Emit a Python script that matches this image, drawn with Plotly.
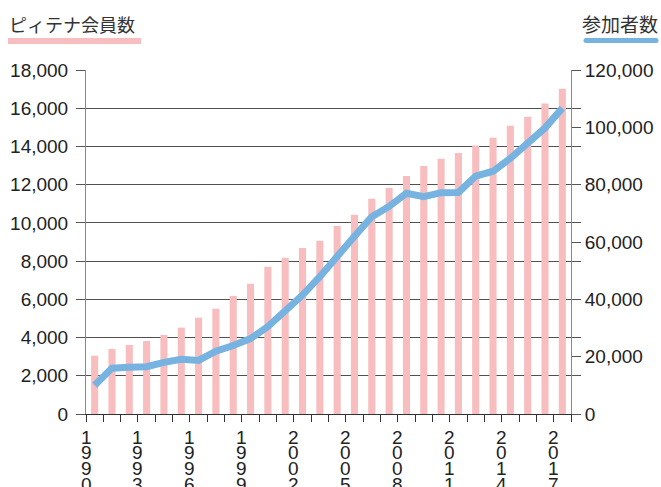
import plotly.graph_objects as go

years = list(range(1990, 2018))
members = [3050, 3400, 3610, 3820, 4140, 4520, 5040, 5510, 6180, 6810,
           7700, 8170, 8690, 9060, 9840, 10420, 11260, 11830, 12460, 12980,
           13350, 13660, 14050, 14450, 15080, 15550, 16250, 17020]
participants = [10000, 16000, 16300, 16500, 18000, 19100, 18700, 21900, 23900, 26300,
                30500, 35700, 41500, 47900, 55300, 62000, 68800, 72400, 77000, 75800,
                77200, 77300, 83000, 84700, 89200, 94500, 99800, 106700]
label_years = [1990, 1993, 1996, 1999, 2002, 2005, 2008, 2011, 2014, 2017]
left_title = "ピィテナ会員数"
right_title = "参加者数"

W, H = 661, 487
L, R, T, B = 86, 571, 70, 414
pw, ph = R - L, B - T

def px(xp):
    return (xp - L) / pw

def py(yp):
    return (B - yp) / ph

xs = [i + 0.5 for i in range(len(years))]

fig = go.Figure()
fig.add_trace(go.Bar(x=xs, y=members, width=0.41, marker_color="#F8BEBF",
                     marker_line_width=0, yaxis="y", name=left_title))
fig.add_trace(go.Scatter(x=xs, y=participants, mode="lines", yaxis="y2",
                         line=dict(color="#76B3E0", width=7), name=right_title))
# invisible trace to activate the 3rd y axis
fig.add_trace(go.Scatter(x=[xs[0]], y=[0], yaxis="y3", mode="markers",
                         marker=dict(opacity=0), showlegend=False, hoverinfo="skip"))

tickfont = dict(family="Liberation Sans, Arial, sans-serif", size=19, color="#222")
fig.update_layout(
    width=W, height=H,
    margin=dict(l=L, r=W - R, t=T, b=H - B, autoexpand=False),
    paper_bgcolor="white", plot_bgcolor="white",
    showlegend=False,
    xaxis=dict(range=[0, len(years)], tickmode="linear", tick0=0, dtick=1,
               ticks="outside", ticklen=7, tickcolor="#333", tickwidth=1,
               showticklabels=False, showgrid=False, zeroline=False,
               showline=True, linecolor="#333", linewidth=1, automargin=False),
    yaxis=dict(range=[0, 18000], tickmode="linear", tick0=0, dtick=2000,
               tickformat=",", ticks="outside", ticklen=9, tickcolor="#555",
               showgrid=True, gridcolor="#505050", gridwidth=1, zeroline=False,
               showline=True, linecolor="#888", linewidth=1, tickfont=tickfont,
               automargin=False, ticklabelstandoff=4),
    yaxis2=dict(range=[0, 120000], tickmode="linear", tick0=0, dtick=20000,
                tickformat=",", ticks="outside", ticklen=9, tickcolor="#555",
                overlaying="y", side="right", showgrid=False, zeroline=False,
                showline=True, linecolor="#888", linewidth=1, tickfont=tickfont,
                automargin=False),
    yaxis3=dict(range=[0, 18000], tickmode="linear", tick0=0, dtick=2000,
                ticks="outside", ticklen=9, tickcolor="#555",
                overlaying="y", side="right", showgrid=False, zeroline=False,
                showticklabels=False, showline=False, automargin=False),
)

# stacked vertical year labels
row_shift = [-23, -38.7, -54.3, -70]
for yv in label_years:
    xb = years.index(yv)
    for k, ch in enumerate(str(yv)):
        fig.add_annotation(x=xb, xref="x", y=0, yref="paper", yshift=row_shift[k],
                           text=ch, showarrow=False, xanchor="center", yanchor="middle",
                           font=dict(family="Liberation Sans, Arial, sans-serif",
                                     size=19, color="#222"))

cjk = "Noto Sans CJK JP"
fig.add_annotation(x=px(7), y=py(24), xref="paper", yref="paper", text=left_title,
                   showarrow=False, xanchor="left", yanchor="middle",
                   font=dict(family=cjk, size=18, color="#333"))
fig.add_annotation(x=px(660), y=py(24), xref="paper", yref="paper", text=right_title,
                   showarrow=False, xanchor="right", yanchor="middle",
                   font=dict(family=cjk, size=19, color="#333"))

fig.add_shape(type="rect", xref="paper", yref="paper",
              x0=px(8), x1=px(141), y0=py(44), y1=py(38),
              fillcolor="#F8BEBF", line_width=0)
fig.add_shape(type="line", xref="paper", yref="paper",
              x0=px(586), x1=px(656), y0=py(40.5), y1=py(40.5),
              line=dict(color="#76B3E0", width=5))
fig.add_shape(type="circle", xref="paper", yref="paper",
              x0=px(583.5), x1=px(588.5), y0=py(43), y1=py(38),
              fillcolor="#76B3E0", line_width=0)
fig.add_shape(type="circle", xref="paper", yref="paper",
              x0=px(653.5), x1=px(658.5), y0=py(43), y1=py(38),
              fillcolor="#76B3E0", line_width=0)

fig.write_html("out.html")
